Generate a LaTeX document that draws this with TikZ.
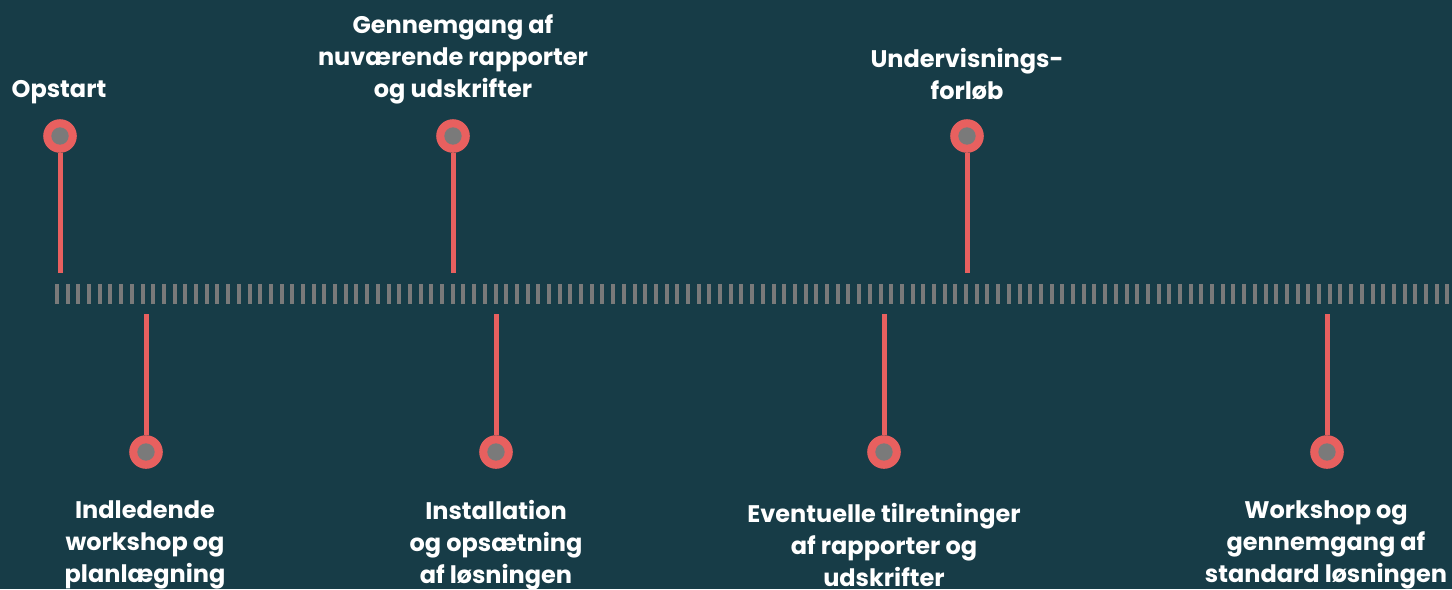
\documentclass[tikz,border=0pt]{standalone}
\usepackage{fontspec}
\setmainfont{Poppins}
\usepackage{tikz}

\definecolor{bgteal}{HTML}{173C47}
\definecolor{pinred}{HTML}{E8605F}
\definecolor{tickgray}{HTML}{7A7A7A}

\tikzset{
  pin dot/.style={circle, fill=pinred, minimum size=25.2pt, inner sep=0pt,
    path picture={\fill[tickgray] (path picture bounding box.center) circle (6.5pt);}},
  stem/.style={pinred, line width=3.75pt},
  tickmark/.style={tickgray, line width=3pt},
  label/.style={text=white, align=center, font=\fontsize{18}{24}\selectfont\bfseries}
}

\begin{document}
\begin{tikzpicture}[x=0.75pt, y=-0.75pt]
						\fill[bgteal] (0,0) rectangle (1452,589);
						\useasboundingbox (0,0) rectangle (1452,589);
					
						% time axis
						\foreach \i in {0,...,130}
							\draw[tickmark] (57+\i*10.695,284) -- (57+\i*10.695,304);
						
						% upper pins
						\node[pin dot] (up1) at (60,136) {};
						\node[pin dot] (up2) at (453,136) {};
						\node[pin dot] (up3) at (967,136) {};
						\coordinate (ua1) at (60,273);
						\coordinate (ua2) at (453,273);
						\coordinate (ua3) at (967,273);
						\draw[stem] (up1) -- (ua1);
						\draw[stem] (up2) -- (ua2);
						\draw[stem] (up3) -- (ua3);
						
						% lower pins
						\node[pin dot] (lo1) at (146,452) {};
						\node[pin dot] (lo2) at (496,452) {};
						\node[pin dot] (lo3) at (884,452) {};
						\node[pin dot] (lo4) at (1327,452) {};
						\coordinate (la1) at (146,314);
						\coordinate (la2) at (496,314);
						\coordinate (la3) at (884,314);
						\coordinate (la4) at (1327,314);
						\draw[stem] (lo1) -- (la1);
						\draw[stem] (lo2) -- (la2);
						\draw[stem] (lo3) -- (la3);
						\draw[stem] (lo4) -- (la4);
						
						% labels
						\node[label] (opstart) at (59,92) {Opstart};
						\node[label] (gennemgang) at (453,59.5) {Gennemgang af\\nuværende rapporter\\og udskrifter};
						\node[label] (undervisning) at (967,74) {Undervisnings-\\forløb};
						\node[label] (indledende) at (145,545) {Indledende\\workshop og\\planlægning};
						\node[label] (installation) at (496,545) {Installation\\og opsætning\\af løsningen};
						\node[label] (tilretninger) at (884,545) {Eventuelle tilretninger\\af rapporter og\\udskrifter};
						\node[label] (workshop) at (1326,545) {Workshop og\\gennemgang af\\standard løsningen};
					\end{tikzpicture}
\end{document}
